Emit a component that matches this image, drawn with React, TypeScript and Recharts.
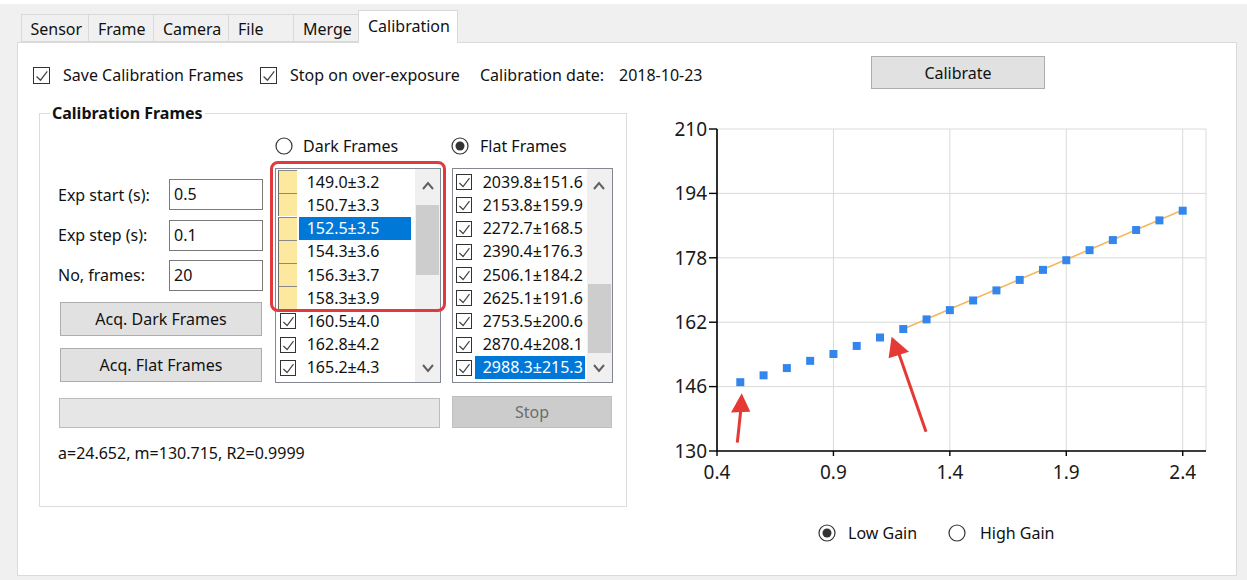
import React from "react";
import { ScatterChart, Scatter, XAxis, YAxis, ZAxis, CartesianGrid } from "recharts";

// exposure (s) vs mean dark level
const exposure = [0.5, 0.6, 0.7, 0.8, 0.9, 1.0, 1.1, 1.2, 1.3, 1.4, 1.5, 1.6, 1.7, 1.8, 1.9, 2.0, 2.1, 2.2, 2.3, 2.4];
const signal = [147.1, 148.8, 150.6, 152.4, 154.1, 156.1, 158.2, 160.3, 162.7, 165.0, 167.4, 169.9, 172.5, 175.0, 177.4, 179.9, 182.4, 184.9, 187.3, 189.7];
// fitted line end points
const fitX = [1.2, 2.4];
const fitY = [160.3, 189.9];
const xTicks = [0.4, 0.9, 1.4, 1.9, 2.4];
const yTicks = [130, 146, 162, 178, 194, 210];

const darkItems = ["149.0±3.2", "150.7±3.3", "152.5±3.5", "154.3±3.6", "156.3±3.7", "158.3±3.9", "160.5±4.0", "162.8±4.2", "165.2±4.3"];
const flatItems = ["2039.8±151.6", "2153.8±159.9", "2272.7±168.5", "2390.4±176.3", "2506.1±184.2", "2625.1±191.6", "2753.5±200.6", "2870.4±208.1", "2988.3±215.3"];
const tabs = ["Sensor", "Frame", "Camera", "File", "Merge", "Calibration"];

const points = exposure.map((x, i) => ({ x, y: signal[i] }));
const fitLine = fitX.map((x, i) => ({ x, y: fitY[i] }));

const FONT = "'Noto Sans', sans-serif";
const abs = (left: number, top: number, width?: number, height?: number): React.CSSProperties => ({
  position: "absolute",
  left,
  top,
  width,
  height,
  boxSizing: "border-box",
});

function Label({ x, cy, text, color = "#111", bold = false, bg }: { x: number; cy: number; text: string; color?: string; bold?: boolean; bg?: string }) {
  return (
    <div style={{ ...abs(x, cy - 12), lineHeight: "24px", whiteSpace: "nowrap", color, fontWeight: bold ? 700 : 400, background: bg, padding: bg ? "0 2px" : 0 }}>
      {text}
    </div>
  );
}

function CheckBox({ x, y, size = 17, checked = true }: { x: number; y: number; size?: number; checked?: boolean }) {
  return (
    <div style={{ ...abs(x, y, size, size), border: "1px solid #333", background: "#fff" }}>
      {checked && (
        <svg width={size - 2} height={size - 2} style={{ position: "absolute", left: 0, top: 0 }}>
          <polyline
            points={`${size * 0.15},${size * 0.5} ${size * 0.38},${size * 0.72} ${size * 0.78},${size * 0.2}`}
            fill="none"
            stroke="#444"
            strokeWidth={1.2}
          />
        </svg>
      )}
    </div>
  );
}

function Radio({ cx, cy, checked }: { cx: number; cy: number; checked: boolean }) {
  return (
    <svg style={{ position: "absolute", left: cx - 9, top: cy - 9 }} width={18} height={18}>
      <circle cx={9} cy={9} r={8} fill="#fff" stroke="#333" strokeWidth={1.2} />
      {checked && <circle cx={9} cy={9} r={4.5} fill="#333" />}
    </svg>
  );
}

function Button({ x, y, w, h, text, disabled = false }: { x: number; y: number; w: number; h: number; text: string; disabled?: boolean }) {
  return (
    <div
      style={{
        ...abs(x, y, w, h),
        background: disabled ? "#cccccc" : "#e1e1e1",
        border: `1px solid ${disabled ? "#bfbfbf" : "#adadad"}`,
        color: disabled ? "#6d6d6d" : "#111",
        display: "flex",
        alignItems: "center",
        justifyContent: "center",
      }}
    >
      {text}
    </div>
  );
}

function TextBox({ y, text }: { y: number; text: string }) {
  return (
    <div style={{ ...abs(169, y, 94, 31), border: "1px solid #7a7a7a", background: "#fff", paddingLeft: 4, lineHeight: "29px" }}>
      {text}
    </div>
  );
}

function Chevron({ cx, cy, up }: { cx: number; cy: number; up: boolean }) {
  const d = up ? 1 : -1;
  return (
    <svg style={{ position: "absolute", left: cx - 6, top: cy - 5 }} width={12} height={10}>
      <polyline points={`1,${5 + 3 * d} 6,${5 - 3 * d} 11,${5 + 3 * d}`} fill="none" stroke="#606060" strokeWidth={2} />
    </svg>
  );
}

function ListBox({
  left,
  width,
  items,
  selected,
  yellowRows,
  textX,
  textClip,
  thumbTop,
  thumbBottom,
}: {
  left: number;
  width: number;
  items: string[];
  selected: number;
  yellowRows: number;
  textX: number;
  textClip: number;
  thumbTop: number;
  thumbBottom: number;
}) {
  const top = 168;
  const sbLeft = left + width - 26;
  return (
    <>
      <div style={{ ...abs(left, top, width, 215), border: "1px solid #828790", background: "#fff", overflow: "hidden" }} />
      {items.map((t, i) => {
        const cy = 181.7 + 23.2 * i;
        const sel = i === selected;
        return (
          <React.Fragment key={t}>
            {i < yellowRows ? (
              <div
                style={{
                  ...abs(left + 3, cy - 11.6, 19, 23),
                  background: "#fde8a0",
                  borderLeft: "1px solid #6b6b6b",
                  borderTop: "1px solid #8a8a8a",
                }}
              />
            ) : (
              <CheckBox x={left + 4.5} y={cy - 7.5} size={16} />
            )}
            {sel && <div style={{ ...abs(textX - 7.5, cy - 11.5, textClip - textX + 7.5, 23), background: "#0078d7" }} />}
            <div style={{ ...abs(textX, cy - 12, textClip - textX, 24), lineHeight: "24px", overflow: "hidden", whiteSpace: "nowrap", color: sel ? "#fff" : "#111" }}>
              {t}
            </div>
          </React.Fragment>
        );
      })}
      <div style={{ ...abs(sbLeft, top + 1, 25, 213), background: "#f0f0f0" }} />
      <div style={{ ...abs(sbLeft + 1, thumbTop, 23, thumbBottom - thumbTop), background: "#cdcdcd" }} />
      <Chevron cx={sbLeft + 12.5} cy={186} up />
      <Chevron cx={sbLeft + 12.5} cy={368} up={false} />
    </>
  );
}

function FitChart() {
  return (
    <div style={abs(650, 110, 566, 400)}>
      <ScatterChart width={566} height={400} margin={{ top: 19, right: 10, bottom: 24, left: 7 }}>
        <CartesianGrid stroke="#dadada" strokeWidth={1} />
        <XAxis
          type="number"
          dataKey="x"
          domain={[0.4, 2.5]}
          ticks={xTicks}
          interval={0}
          height={35}
          tickSize={5}
          tickMargin={10}
          axisLine={{ stroke: "#000", strokeWidth: 1.6 }}
          tickLine={{ stroke: "#000", strokeWidth: 1.4 }}
          tick={{ fill: "#1a1a1a", fontSize: 19, fontFamily: FONT }}
          tickFormatter={(v: number) => v.toFixed(1)}
        />
        <YAxis
          type="number"
          dataKey="y"
          domain={[130, 210]}
          ticks={yTicks}
          interval={0}
          width={60}
          tickSize={8}
          tickMargin={2}
          axisLine={{ stroke: "#000", strokeWidth: 1.6 }}
          tickLine={{ stroke: "#000", strokeWidth: 1.4 }}
          tick={{ fill: "#1a1a1a", fontSize: 19, fontFamily: FONT }}
        />
        <ZAxis range={[36, 36]} />
        <Scatter
          data={fitLine}
          line={{ stroke: "#f7b65c", strokeWidth: 1.6 }}
          shape={() => <g />}
          isAnimationActive={false}
        />
        <Scatter data={points} fill="#3386ec" shape="square" isAnimationActive={false} />
      </ScatterChart>
    </div>
  );
}

function Arrows() {
  const red = "#e53935";
  return (
    <svg style={{ position: "absolute", left: 0, top: 0, pointerEvents: "none" }} width={1247} height={580}>
      <line x1={737.3} y1={442.7} x2={741} y2={408} stroke={red} strokeWidth={3} />
      <polygon points="741.7,393.3 731,412.5 750.3,411.7" fill={red} />
      <line x1={926} y1={431.7} x2={899} y2={354} stroke={red} strokeWidth={3} />
      <polygon points="891.6,336.7 888.6,358.3 909,351.7" fill={red} />
    </svg>
  );
}

export default function App() {
  const tabX = [20.5, 88, 153, 228, 293, 358, 457];
  return (
    <div style={{ ...abs(0, 0, 1247, 580), background: "#f0f0f0", fontFamily: FONT, fontSize: 16, color: "#111", overflow: "hidden" }}>
      <div style={{ ...abs(0, 0, 1247, 4), background: "#fff" }} />
      {/* tab page */}
      <div style={{ ...abs(17, 42, 1220, 534), background: "#fff", border: "1px solid #dadada" }} />
      {tabs.map((t, i) => {
        const sel = t === "Calibration";
        return (
          <div
            key={t}
            style={{
              ...abs(tabX[i], sel ? 10 : 14, tabX[i + 1] - tabX[i] + 1, sel ? 33 : 28),
              background: sel ? "#fff" : "#f0f0f0",
              border: "1px solid #d9d9d9",
              borderBottom: sel ? "none" : "1px solid #d9d9d9",
              paddingLeft: 9,
              lineHeight: sel ? "30px" : "29px",
              whiteSpace: "nowrap",
              zIndex: sel ? 2 : 1,
            }}
          >
            {t}
          </div>
        );
      })}

      <CheckBox x={33} y={67} />
      <Label x={63} cy={75} text="Save Calibration Frames" />
      <CheckBox x={260} y={67} />
      <Label x={290} cy={75} text="Stop on over-exposure" />
      <Label x={480} cy={75} text="Calibration date:" />
      <Label x={619} cy={75} text="2018-10-23" />
      <Button x={871} y={56} w={174} h={33} text="Calibrate" />

      {/* group box */}
      <div style={{ ...abs(38.5, 113, 588, 394), border: "1px solid #dcdcdc" }} />
      <Label x={50} cy={113} text="Calibration Frames" bold bg="#fff" />

      <Label x={58} cy={195} text="Exp start (s):" />
      <Label x={58} cy={235} text="Exp step (s):" />
      <Label x={58} cy={275} text="No, frames:" />
      <TextBox y={179} text="0.5" />
      <TextBox y={220} text="0.1" />
      <TextBox y={260} text="20" />
      <Button x={60} y={302} w={202} h={34} text="Acq. Dark Frames" />
      <Button x={60} y={348} w={202} h={34} text="Acq. Flat Frames" />
      <div style={{ ...abs(59, 398, 381, 30), background: "#e6e6e6", border: "1px solid #bcbcbc" }} />
      <Button x={452} y={396} w={160} h={32} text="Stop" disabled />
      <Label x={58} cy={453} text="a=24.652, m=130.715, R2=0.9999" />

      <Radio cx={283.5} cy={146} checked={false} />
      <Label x={303} cy={146} text="Dark Frames" />
      <Radio cx={460} cy={146} checked />
      <Label x={480} cy={146} text="Flat Frames" />

      <ListBox left={275} width={166} items={darkItems} selected={2} yellowRows={6} textX={306.7} textClip={411} thumbTop={205} thumbBottom={275} />
      <ListBox left={451.5} width={161} items={flatItems} selected={8} yellowRows={0} textX={482.7} textClip={585} thumbTop={284} thumbBottom={353} />
      <div style={{ ...abs(269.5, 161, 176, 151), border: "3px solid #e0393e", borderRadius: 8 }} />

      <FitChart />
      <Arrows />

      <Radio cx={827} cy={532.7} checked />
      <Label x={848} cy={532.7} text="Low Gain" />
      <Radio cx={957} cy={532.7} checked={false} />
      <Label x={980} cy={532.7} text="High Gain" />
    </div>
  );
}
